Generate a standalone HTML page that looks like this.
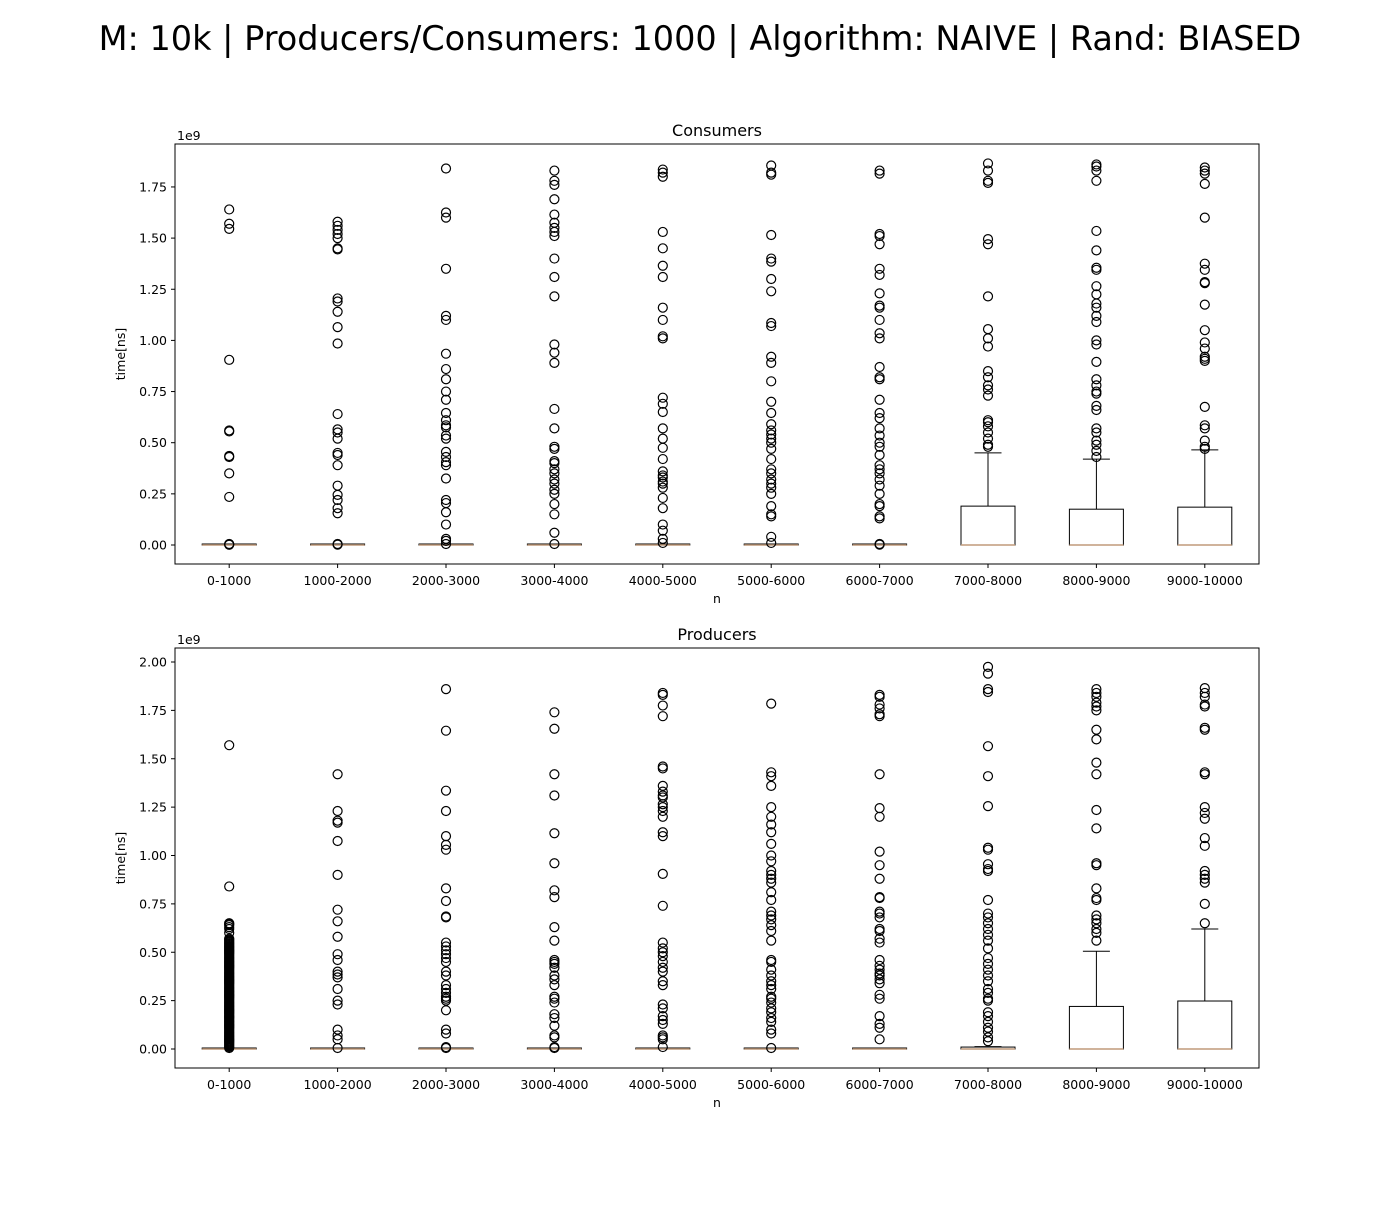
<!DOCTYPE html>
<html><head><meta charset="utf-8"><style>
body{margin:0;background:#fff;}
svg text{font-family:"DejaVu Sans","Liberation Sans",sans-serif;}
</style></head><body>
<svg id="chart" width="1400" height="1200" xmlns="http://www.w3.org/2000/svg">
<rect width="1400" height="1200" fill="#fff"/>
<text x="700" y="50" font-size="33.5" text-anchor="middle">M: 10k | Producers/Consumers: 1000 | Algorithm: NAIVE | Rand: BIASED</text>
</svg>
<script>
const categories = ["0-1000","1000-2000","2000-3000","3000-4000","4000-5000","5000-6000","6000-7000","7000-8000","8000-9000","9000-10000"];
const consQ1 = [0,0,0,0,0,0,0,0,0,0];
const consMed = [0,0,0,0,0,0,0,0,0,0];
const consQ3 = [0.002,0.002,0.002,0.002,0.002,0.002,0.002,0.19,0.175,0.185];
const consWhisk = [0.003,0.003,0.003,0.003,0.003,0.003,0.003,0.45,0.42,0.465];
const consOut = [
[1.64,1.57,1.545,0.905,0.56,0.555,0.435,0.43,0.35,0.235,0.005,0.003,0.001],
[1.58,1.56,1.54,1.52,1.50,1.45,1.445,1.205,1.19,1.14,1.065,0.985,0.64,0.565,0.55,0.52,0.45,0.44,0.39,0.29,0.245,0.22,0.18,0.155,0.005,0.002],
[1.84,1.625,1.60,1.35,1.12,1.10,0.935,0.86,0.81,0.75,0.71,0.645,0.61,0.585,0.575,0.535,0.52,0.455,0.43,0.405,0.39,0.325,0.22,0.205,0.16,0.10,0.03,0.02,0.005],
[1.83,1.78,1.76,1.69,1.615,1.575,1.55,1.53,1.51,1.40,1.31,1.215,0.98,0.94,0.89,0.665,0.57,0.48,0.47,0.41,0.40,0.37,0.35,0.32,0.30,0.27,0.25,0.20,0.15,0.06,0.005],
[1.835,1.82,1.80,1.53,1.45,1.365,1.31,1.16,1.10,1.02,1.01,0.72,0.69,0.65,0.57,0.52,0.475,0.42,0.36,0.34,0.33,0.31,0.30,0.28,0.23,0.18,0.10,0.07,0.03,0.01],
[1.855,1.82,1.81,1.515,1.40,1.385,1.30,1.24,1.085,1.07,0.92,0.89,0.80,0.70,0.645,0.59,0.56,0.54,0.52,0.50,0.47,0.42,0.37,0.35,0.32,0.30,0.28,0.25,0.19,0.15,0.14,0.04,0.01],
[1.83,1.815,1.52,1.51,1.47,1.35,1.32,1.23,1.17,1.16,1.10,1.035,1.01,0.87,0.82,0.81,0.71,0.645,0.62,0.57,0.535,0.50,0.48,0.44,0.39,0.37,0.35,0.32,0.29,0.25,0.20,0.19,0.14,0.13,0.005,0.002],
[1.865,1.83,1.78,1.77,1.495,1.47,1.215,1.055,1.01,0.97,0.85,0.82,0.78,0.76,0.73,0.61,0.60,0.58,0.55,0.52,0.49,0.48],
[1.86,1.85,1.83,1.78,1.535,1.44,1.355,1.345,1.265,1.225,1.18,1.16,1.12,1.09,1.00,0.98,0.895,0.81,0.78,0.75,0.74,0.68,0.66,0.57,0.55,0.51,0.49,0.46,0.43],
[1.845,1.83,1.815,1.765,1.60,1.375,1.345,1.285,1.28,1.175,1.05,0.99,0.96,0.92,0.91,0.90,0.675,0.585,0.57,0.51,0.48,0.47]
];
const prodQ1 = [0,0,0,0,0,0,0,0,0,0];
const prodMed = [0,0,0,0,0,0,0,0,0,0];
const prodQ3 = [0.002,0.002,0.002,0.002,0.002,0.002,0.002,0.01,0.22,0.248];
const prodWhisk = [0.003,0.003,0.003,0.003,0.003,0.003,0.003,0.012,0.505,0.62];
const prodOut = [
[1.57,0.84,0.65,0.645,0.64,0.63,0.62,0.60,0.57,0.565,0.56,0.555,0.55,0.545,0.54,0.535,0.53,0.525,0.52,0.515,0.51,0.505,0.50,0.495,0.49,0.485,0.48,0.475,0.47,0.465,0.46,0.455,0.45,0.445,0.44,0.435,0.43,0.425,0.42,0.415,0.41,0.405,0.40,0.395,0.39,0.385,0.38,0.375,0.37,0.365,0.36,0.355,0.35,0.345,0.34,0.335,0.33,0.325,0.32,0.315,0.31,0.305,0.30,0.295,0.29,0.285,0.28,0.275,0.27,0.265,0.26,0.255,0.25,0.245,0.24,0.235,0.23,0.225,0.22,0.215,0.21,0.205,0.20,0.195,0.19,0.185,0.18,0.175,0.17,0.165,0.16,0.155,0.15,0.145,0.14,0.135,0.13,0.125,0.12,0.115,0.11,0.105,0.10,0.095,0.09,0.085,0.08,0.075,0.07,0.065,0.06,0.055,0.05,0.045,0.04,0.035,0.03,0.025,0.02,0.015,0.01,0.005],
[1.42,1.23,1.18,1.17,1.075,0.90,0.72,0.66,0.58,0.49,0.46,0.40,0.385,0.37,0.31,0.25,0.23,0.10,0.07,0.05,0.005],
[1.86,1.645,1.335,1.23,1.10,1.055,1.03,0.83,0.765,0.685,0.68,0.55,0.53,0.51,0.49,0.47,0.45,0.40,0.38,0.33,0.31,0.29,0.27,0.26,0.25,0.20,0.10,0.08,0.01,0.005],
[1.74,1.655,1.42,1.31,1.115,0.96,0.82,0.785,0.63,0.56,0.46,0.45,0.44,0.42,0.38,0.36,0.33,0.27,0.26,0.24,0.18,0.16,0.12,0.07,0.06,0.01,0.005],
[1.84,1.83,1.775,1.72,1.46,1.45,1.36,1.33,1.31,1.30,1.265,1.25,1.23,1.20,1.12,1.10,0.905,0.74,0.55,0.52,0.50,0.48,0.45,0.42,0.40,0.35,0.33,0.23,0.21,0.17,0.15,0.13,0.07,0.06,0.05,0.01],
[1.785,1.43,1.41,1.36,1.25,1.20,1.16,1.12,1.06,1.00,0.97,0.92,0.90,0.88,0.86,0.81,0.77,0.71,0.69,0.67,0.64,0.61,0.56,0.46,0.45,0.41,0.38,0.35,0.33,0.31,0.27,0.26,0.24,0.21,0.19,0.16,0.14,0.10,0.08,0.005],
[1.83,1.82,1.78,1.76,1.73,1.72,1.42,1.245,1.20,1.02,0.95,0.88,0.785,0.78,0.71,0.70,0.68,0.62,0.61,0.57,0.55,0.46,0.43,0.41,0.39,0.38,0.36,0.34,0.28,0.26,0.17,0.13,0.11,0.05],
[1.975,1.94,1.86,1.845,1.565,1.41,1.255,1.04,1.03,0.955,0.93,0.92,0.77,0.70,0.68,0.65,0.62,0.59,0.56,0.52,0.47,0.44,0.41,0.38,0.35,0.31,0.29,0.26,0.25,0.19,0.17,0.14,0.11,0.09,0.06,0.04],
[1.86,1.84,1.82,1.79,1.77,1.75,1.65,1.60,1.48,1.42,1.235,1.14,0.96,0.95,0.83,0.78,0.77,0.69,0.67,0.65,0.62,0.60,0.56],
[1.865,1.84,1.82,1.78,1.77,1.66,1.65,1.43,1.42,1.25,1.22,1.19,1.09,1.05,0.92,0.90,0.88,0.86,0.75,0.65]
];
const consTicks = [0,0.25,0.5,0.75,1.0,1.25,1.5,1.75];
const prodTicks = [0,0.25,0.5,0.75,1.0,1.25,1.5,1.75,2.0];

const NS = "http://www.w3.org/2000/svg";
const svg = document.getElementById("chart");
function mk(tag, attrs, parent){const e=document.createElementNS(NS,tag);for(const k in attrs)e.setAttribute(k,attrs[k]);(parent||svg).appendChild(e);return e;}

function panel(name, top, title, zeroY, pxPerUnit, ticks, q1, med, q3, wh, outs){
  const L=175,R=1259,T=top,B=top+420;
  const g=mk("g",{});
  
  
  const x = i => L + (i+0.5)*(R-L)/categories.length;
  const y = v => zeroY - v*pxPerUnit;
  const bw = 54;
  ticks.forEach(t=>{
    mk("line",{x1:L-4,x2:L,y1:y(t),y2:y(t),stroke:"#000"},g);
    const tx=mk("text",{x:L-8,y:y(t)+4.5,"font-size":12.5,"text-anchor":"end"},g);
    tx.textContent=t.toFixed(2);
    
    
  });
  categories.forEach((c,i)=>{
    const cx=x(i);
    mk("line",{x1:cx,x2:cx,y1:B,y2:B+4,stroke:"#000"},g);
    const tx=mk("text",{x:cx,y:B+21,"font-size":12.5,"text-anchor":"middle"},g);
    tx.textContent=c;
    
    
    const bg=mk("g",{},g);
    
    
    mk("line",{x1:cx,x2:cx,y1:y(q3[i]),y2:y(wh[i]),stroke:"#000"},bg);
    mk("line",{x1:cx-13.5,x2:cx+13.5,y1:y(wh[i]),y2:y(wh[i]),stroke:"#000"},bg);
    mk("line",{x1:cx-13.5,x2:cx+13.5,y1:y(q1[i]),y2:y(q1[i]),stroke:"#000"},bg);
    const h=Math.max(y(q1[i])-y(q3[i]),1);
    mk("rect",{x:cx-bw/2,y:y(q1[i])-h,width:bw,height:h,fill:"none",stroke:"#000"},bg);
    mk("line",{x1:cx-bw/2,x2:cx+bw/2,y1:y(med[i]),y2:y(med[i]),stroke:"#c09a7a","stroke-width":1.5},bg);
    outs[i].forEach(v=>{
      const o=mk("circle",{cx:cx,cy:y(v),r:4.5,fill:"none",stroke:"#000","stroke-width":1.2},bg);
      
      
    });
  });
  mk("rect",{x:L,y:T,width:R-L,height:B-T,fill:"none",stroke:"#000","stroke-width":1},g);
  const tt=mk("text",{x:(L+R)/2,y:T-8,"font-size":16,"text-anchor":"middle"},g);
  tt.textContent=title;
  
  
  const ex=mk("text",{x:L+2,y:T-4,"font-size":12.5},g);
  ex.textContent="1e9";
  
  
  const yl=mk("text",{x:0,y:0,"font-size":12.5,"text-anchor":"middle",transform:`translate(125,${(T+B)/2}) rotate(-90)`},g);
  yl.textContent="time[ns]";
  
  
  const xl=mk("text",{x:(L+R)/2,y:B+39,"font-size":12.5,"text-anchor":"middle"},g);
  xl.textContent="n";
  
  
}
panel("consumers",144,"Consumers",545,204.6,consTicks,consQ1,consMed,consQ3,consWhisk,consOut);
panel("producers",648,"Producers",1049,193.5,prodTicks,prodQ1,prodMed,prodQ3,prodWhisk,prodOut);
</script>
</body></html>
